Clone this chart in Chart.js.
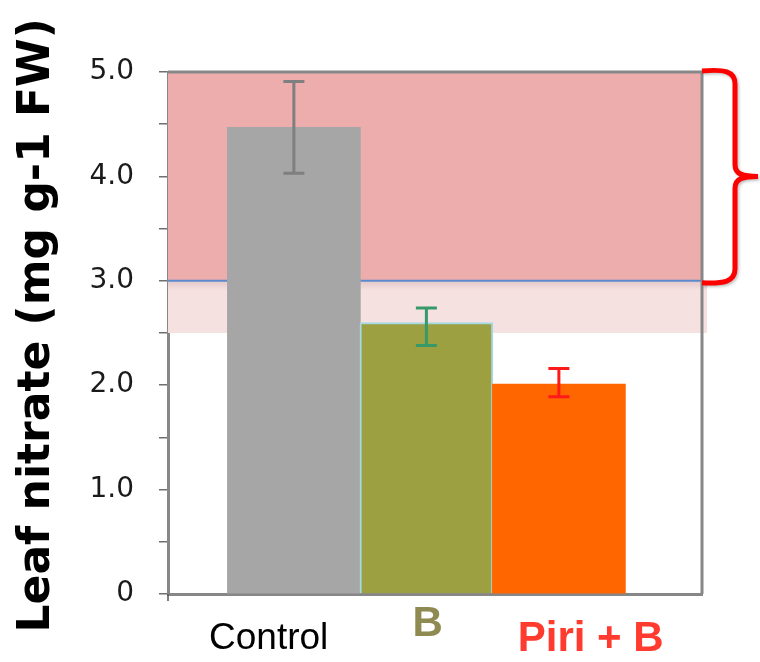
<!DOCTYPE html>
<html>
<head>
<meta charset="utf-8">
<script src="https://cdn.jsdelivr.net/npm/chart.js@4/dist/chart.umd.min.js"></script>
<style>
  html, body { margin: 0; padding: 0; background: #ffffff; }
  #wrap { width: 760px; height: 662px; position: relative; }
</style>
</head>
<body>
<div id="wrap"><canvas id="chart" width="760" height="662"></canvas></div>
<script>
// Leaf nitrate content per treatment (mg g-1 FW)
const categories = ['Control', 'B', 'Piri + B'];
const nitrate = [4.47, 2.60, 2.01];
const errLow = [4.03, 2.38, 1.89];
const errHigh = [4.91, 2.74, 2.16];

// Labelled y ticks
const yTickValues = [0, 1, 2, 3, 4, 5];
const yTickLabels = ['0', '1.0', '2.0', '3.0', '4.0', '5.0'];

// Shaded ranges on the value axis
const upperRange = [3.0, 5.0];
const lowerRange = [2.5, 3.0];
const thresholdValue = 3.0;

// Styling
const barFill = ['#a6a6a6', '#9ca041', '#ff6600'];
const barEdge = ['#a6a6a6', '#a6d8e4', '#ff6600'];
const barEdgeWidth = [0, 2, 0];
const errColor = ['#7f7f7f', '#36996a', '#ff1a1a'];
const labelStyle = [
  { color: '#000000', font: { family: 'Liberation Sans', size: 37, weight: 'normal', lineHeight: 1.2 }, shift: -0.19 },
  { color: '#8f8a52', font: { family: 'Liberation Sans', size: 42, weight: 'bold', lineHeight: 0.333 }, shift: 0.01 },
  { color: '#ff3b2f', font: { family: 'Liberation Sans', size: 42, weight: 'bold', lineHeight: 1.048 }, shift: 0.24 }
];
const frameColor = '#878787';

const rangesPlugin = {
  id: 'ranges',
  beforeDatasetsDraw(chart) {
    const { ctx, chartArea: a, scales: { y } } = chart;
    ctx.save();
    // lighter lower range, slightly wider than the frame
    const l1 = y.getPixelForValue(lowerRange[1]);
    const l0 = y.getPixelForValue(lowerRange[0]);
    ctx.fillStyle = '#f6e1e1';
    ctx.fillRect(a.left, l1, a.width + 5, l0 - l1);
    // soft shade just under the threshold
    const g = ctx.createLinearGradient(0, l1, 0, l1 + 10);
    g.addColorStop(0, 'rgba(150,90,90,0.18)');
    g.addColorStop(1, 'rgba(150,90,90,0)');
    ctx.fillStyle = g;
    ctx.fillRect(a.left, l1, a.width + 5, 10);
    // upper range
    const u1 = y.getPixelForValue(upperRange[1]);
    const u0 = y.getPixelForValue(upperRange[0]);
    ctx.fillStyle = '#edadad';
    ctx.fillRect(a.left, u1, a.width, u0 - u1);
    // threshold line
    const t = y.getPixelForValue(thresholdValue);
    ctx.strokeStyle = '#5b8bcf';
    ctx.lineWidth = 2;
    ctx.beginPath();
    ctx.moveTo(a.left, t);
    ctx.lineTo(a.right, t);
    ctx.stroke();
    ctx.restore();
  },
  afterDatasetsDraw(chart) {
    const { ctx, chartArea: a, scales: { y } } = chart;
    const meta = chart.getDatasetMeta(0);
    ctx.save();
    // error bars
    meta.data.forEach((bar, i) => {
      const top = y.getPixelForValue(errHigh[i]);
      const bot = y.getPixelForValue(errLow[i]);
      const cx = bar.x;
      ctx.strokeStyle = errColor[i];
      ctx.lineWidth = 3;
      ctx.beginPath();
      ctx.moveTo(cx, top); ctx.lineTo(cx, bot);
      ctx.moveTo(cx - 10.5, top); ctx.lineTo(cx + 10.5, top);
      ctx.moveTo(cx - 10.5, bot); ctx.lineTo(cx + 10.5, bot);
      ctx.stroke();
    });
    // top and right edges of the frame
    ctx.strokeStyle = frameColor;
    ctx.lineWidth = 3;
    ctx.beginPath();
    ctx.moveTo(a.left, a.top);
    ctx.lineTo(a.right, a.top);
    ctx.lineTo(a.right, a.bottom);
    ctx.stroke();
    // small tick below the origin
    ctx.strokeStyle = '#555555';
    ctx.lineWidth = 1.5;
    ctx.beginPath();
    ctx.moveTo(a.left, a.bottom);
    ctx.lineTo(a.left, a.bottom + 7);
    ctx.stroke();
    // brace marking the upper range
    const R = a.right;
    const yTop = y.getPixelForValue(upperRange[1]);
    const yBot = y.getPixelForValue(upperRange[0]);
    const mid = (yTop + yBot) / 2;
    const vx = R + 33, tip = R + 56;
    ctx.shadowColor = 'rgba(0,0,0,0.25)';
    ctx.shadowBlur = 3;
    ctx.shadowOffsetX = 1.5;
    ctx.shadowOffsetY = 1.5;
    ctx.strokeStyle = '#ff0000';
    ctx.lineWidth = 5;
    ctx.lineJoin = 'round';
    ctx.beginPath();
    ctx.moveTo(R, yTop - 1);
    ctx.bezierCurveTo(R + 22, yTop - 3, vx, yTop - 1, vx, yTop + 12);
    ctx.lineTo(vx, mid - 12);
    ctx.bezierCurveTo(vx, mid - 2, vx + 8, mid, tip, mid);
    ctx.moveTo(tip, mid);
    ctx.bezierCurveTo(vx + 8, mid, vx, mid + 2, vx, mid + 12);
    ctx.lineTo(vx, yBot - 12);
    ctx.bezierCurveTo(vx, yBot + 1, R + 22, yBot + 3, R, yBot + 2);
    ctx.stroke();
    ctx.restore();
  }
};

new Chart(document.getElementById('chart'), {
  type: 'bar',
  data: {
    datasets: [{
      data: nitrate.map((v, i) => ({ x: i + 1, y: v })),
      backgroundColor: barFill,
      borderColor: barEdge,
      borderWidth: barEdgeWidth,
      barThickness: 133
    }]
  },
  options: {
    responsive: false,
    animation: false,
    events: [],
    layout: { padding: { left: 8, top: 72, right: 58, bottom: 0 } },
    plugins: { legend: { display: false }, tooltip: { enabled: false } },
    scales: {
      x: {
        type: 'linear',
        offset: false,
        min: 0.05,
        max: 4.08,
        afterFit(scale) { scale.height = 68; },
        afterBuildTicks(scale) {
          scale.ticks = categories.map((c, i) => ({ value: i + 1 + labelStyle[i].shift }));
        },
        ticks: {
          autoSkip: false,
          maxRotation: 0,
          padding: 23,
          callback: (v, i) => categories[i],
          color: (ctx) => labelStyle[ctx.index] ? labelStyle[ctx.index].color : '#000',
          font: (ctx) => labelStyle[ctx.index] ? labelStyle[ctx.index].font : { size: 12 }
        },
        grid: { display: false, drawTicks: false, offset: false },
        border: { display: true, color: frameColor, width: 3 }
      },
      y: {
        min: 0,
        max: 5,
        afterFit(scale) { scale.width = 160; },
        ticks: {
          stepSize: 0.5,
          padding: 25,
          color: '#1a1a1a',
          font: { family: 'DejaVu Sans', size: 28 },
          callback: (v) => {
            const k = yTickValues.findIndex(t => Math.abs(t - v) < 1e-6);
            return k >= 0 ? yTickLabels[k] : '';
          }
        },
        grid: { drawOnChartArea: false, drawTicks: true, tickLength: 9, color: '#6f6f6f', lineWidth: 1.5 },
        border: { display: true, color: frameColor, width: 3 },
        title: {
          display: true,
          text: ' Leaf nitrate (mg g-1 FW)',
          color: '#000000',
          font: { family: 'DejaVu Sans', size: 44, weight: 'bold' },
          padding: { top: 3, bottom: 3 }
        }
      }
    }
  },
  plugins: [rangesPlugin]
});
</script>
</body>
</html>
